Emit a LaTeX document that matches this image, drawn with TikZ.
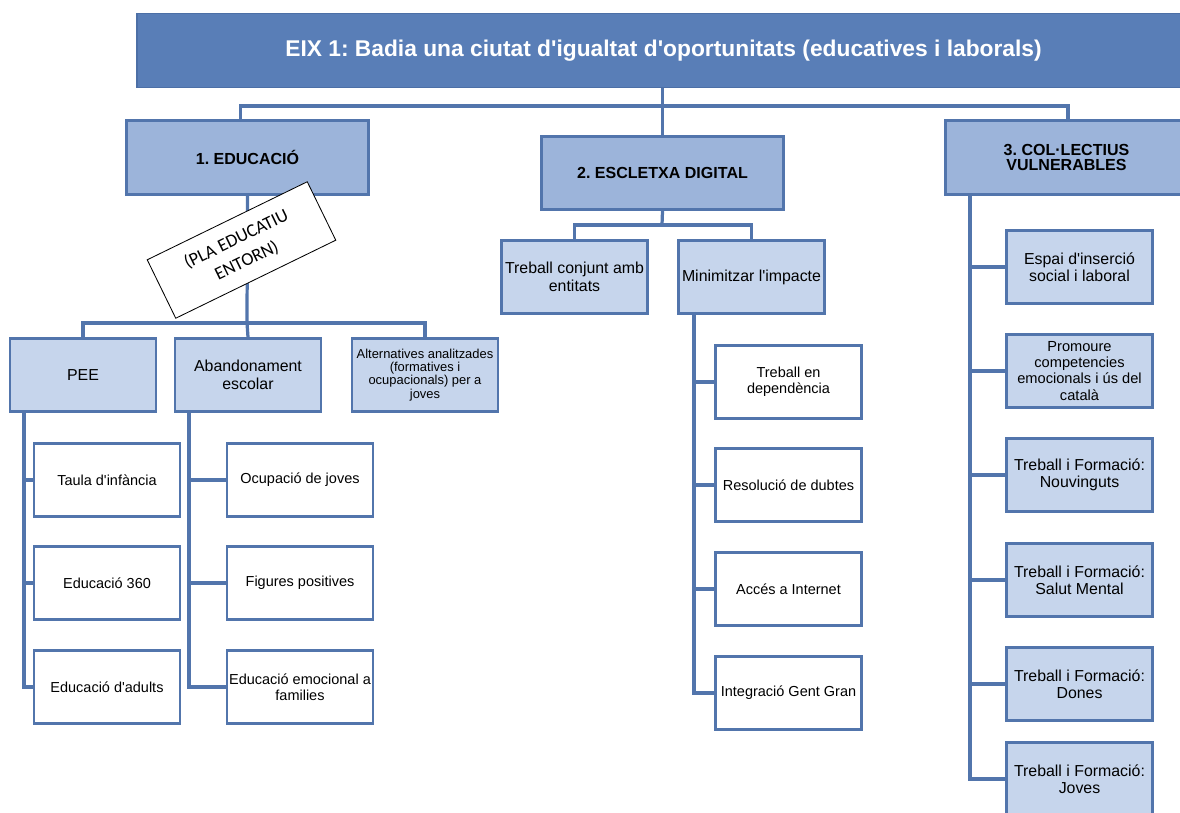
\documentclass[tikz,border=0pt]{standalone}
\usepackage{fontspec}
\setmainfont{Liberation Sans}
\newfontfamily\calfont{Carlito}
\frenchspacing
\definecolor{eixblue}{HTML}{597EB7}
\definecolor{eixline}{HTML}{4C6FA6}
\definecolor{areablue}{HTML}{9CB4DA}
\definecolor{subblue}{HTML}{C6D5EC}
\definecolor{boxline}{HTML}{5275AC}
\newcommand\ap{\textquotesingle}
\tikzset{
    eixbox/.style={draw=eixline, fill=eixblue, line width=1.2pt, minimum width=26.325cm, minimum height=1.85cm,
        text=white, font=\fontsize{16.2}{18}\selectfont\bfseries},
    areabox/.style={draw=boxline, fill=areablue, line width=2.1pt, minimum width=6.05cm, minimum height=1.83cm,
        align=center, inner sep=1pt, font=\fontsize{11.4}{10.8}\selectfont\bfseries},
    subbox/.style={draw=boxline, fill=subblue, line width=2.1pt, minimum width=3.65cm, minimum height=1.82cm,
        align=center, inner sep=1pt, font=\fontsize{11.3}{12.4}\selectfont},
    leafbox/.style={subbox, fill=white, font=\fontsize{10.3}{11.4}\selectfont},
    planbox/.style={draw=black, fill=white, line width=0.6pt, minimum width=4.45cm, minimum height=1.625cm,
        align=center, font=\calfont\fontsize{13}{17}\selectfont},
    link/.style={draw=boxline, line width=2.3pt},
}
\begin{document}
\begin{tikzpicture}[x=0.025cm, y=-0.025cm]
\useasboundingbox (0,0) rectangle (1180,813);
\clip (0,0) rectangle (1180,813);

% eix i arees
\node[eixbox] (eix) at (663.5,50.5) {EIX 1: Badia una ciutat d\ap igualtat d\ap oportunitats (educatives i laborals)};
\node[areabox] (edu) at (247.5,157.5) {1. EDUCACIÓ};
\node[areabox] (digital) at (662.5,173) {2. ESCLETXA DIGITAL};
\node[areabox] (coll) at (1066.5,157.5) {3. COL·LECTIUS\\VULNERABLES};

\coordinate (split) at (662,106);
\draw[link] (eix.south -| digital.north) -- (digital.north);
\draw[link] ([xshift=-0.175cm]edu.north) |- (split) -| ([xshift=0.04cm]coll.north);

% educacio
\node[subbox] (pee) at (83,375) {PEE};
\node[subbox] (abandon) at (248,375) {Abandonament\\escolar};
\node[subbox, font=\fontsize{9.2}{9.4}\selectfont] (alter) at (425,375) {Alternatives analitzades\\(formatives i\\ocupacionals) per a\\joves};
\coordinate (edusplit) at (247,323);
\draw[link] (edu.south) -- (edusplit);
\draw[link] (pee.north) |- (edusplit) -| (alter.north);
\draw[link] (edusplit) -- (abandon.north);
\node[planbox, rotate=26] (pla) at (241.5,250) {(PLA EDUCATIU\\ENTORN)};

\node[leafbox] (taula) at (107,480) {Taula d\ap infància};
\node[leafbox] (edu360) at (107,583) {Educació 360};
\node[leafbox] (adults) at (107,687) {Educació d\ap adults};
\coordinate (peeline) at (24,411);
\draw[link] (peeline) |- (adults.west);
\foreach \n in {taula,edu360}
    \draw[link] (peeline |- \n.west) -- (\n.west);

\node[leafbox] (ocupa) at (300,480) {Ocupació de joves};
\node[leafbox] (figures) at (300,583) {Figures positives};
\node[leafbox] (emocio) at (300,687) {Educació emocional a\\families};
\coordinate (abline) at (189,411);
\draw[link] (abline) |- (emocio.west);
\foreach \n in {ocupa,figures}
    \draw[link] (abline |- \n.west) -- (\n.west);

% escletxa digital
\node[subbox] (conjunt) at (574.5,277) {Treball conjunt amb\\entitats};
\node[subbox] (minim) at (751.5,277) {Minimitzar l\ap impacte};
\coordinate (digsplit) at (662,225);
\draw[link] (digital.south) -- (digsplit);
\draw[link] (conjunt.north) |- (digsplit) -| (minim.north);

\node[leafbox] (depen) at (788.5,382) {Treball en\\dependència};
\node[leafbox] (dubtes) at (788.5,485) {Resolució de dubtes};
\node[leafbox] (internet) at (788.5,589) {Accés a Internet};
\node[leafbox] (gentgran) at (788.5,693) {Integració Gent Gran};
\coordinate (minline) at (694,312);
\draw[link] (minline) |- (gentgran.west);
\foreach \n in {depen,dubtes,internet}
    \draw[link] (minline |- \n.west) -- (\n.west);

% col.lectius vulnerables
\node[subbox] (espai) at (1079.5,267) {Espai d\ap inserció\\social i laboral};
\node[subbox, font=\fontsize{10.4}{11.4}\selectfont] (promou) at (1079.5,371) {Promoure\\competencies\\emocionals i ús del\\català};
\node[subbox] (nouv) at (1079.5,475) {Treball i Formació:\\Nouvinguts};
\node[subbox] (salut) at (1079.5,580) {Treball i Formació:\\Salut Mental};
\node[subbox] (dones) at (1079.5,684) {Treball i Formació:\\Dones};
\node[subbox] (joves) at (1079.5,779) {Treball i Formació:\\Joves};
\coordinate (colline) at (970,194);
\draw[link] (colline) |- (joves.west);
\foreach \n in {espai,promou,nouv,salut,dones}
    \draw[link] (colline |- \n.west) -- (\n.west);
\end{tikzpicture}
\end{document}
